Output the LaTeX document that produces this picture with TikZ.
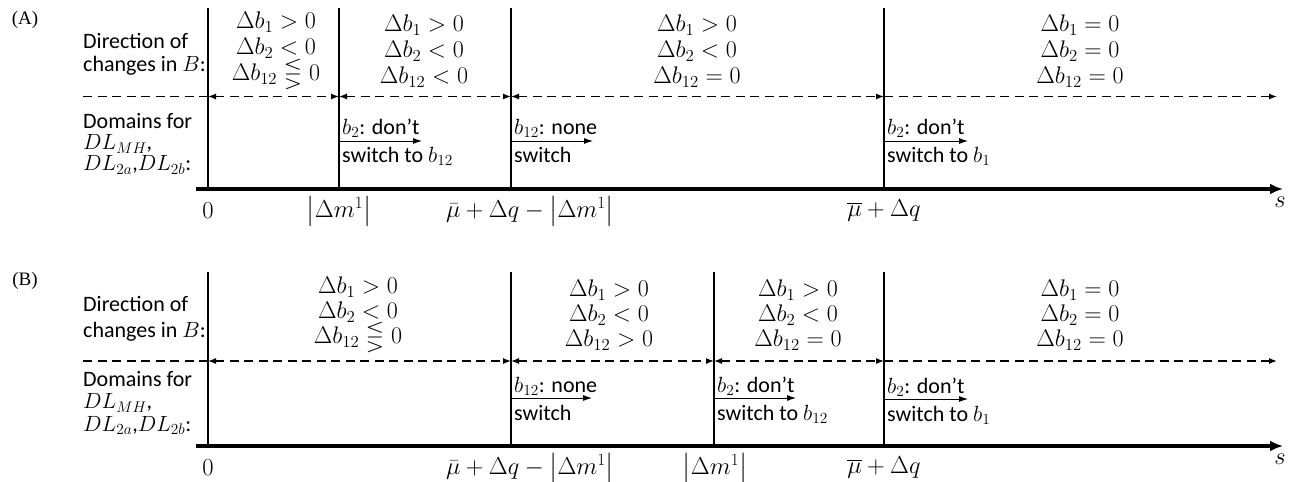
\RequirePackage{fix-cm}
\documentclass[tikz,border=0pt]{standalone}
\usepackage{amssymb}
\usepackage[no-math]{fontspec}
\setmainfont{Carlito}
\newfontfamily\seriflab{Liberation Serif}
\usetikzlibrary{arrows.meta}
\tikzset{
  vline/.style={line width=1.2pt},
  dashline/.style={line width=1.2pt, dash pattern=on 9pt off 5.5pt},
  darr/.style={dashline, {Latex[length=8pt,width=6pt]}-{Latex[length=8pt,width=6pt]}},
  rarr/.style={dashline, -{Latex[length=8pt,width=6pt]}},
  axisline/.style={line width=3.5pt, -{Latex[length=13pt,width=11pt]}},
  note/.style={line width=0.9pt, -{Latex[length=9pt,width=6pt]}},
  txt/.style={inner sep=0pt, font=\fontsize{22}{26}\selectfont},
  mblock/.style={inner sep=0pt, align=center, font=\fontsize{24}{26}\selectfont},
  tick/.style={inner sep=0pt, font=\fontsize{24.5}{24}\selectfont},
  plab/.style={inner sep=0pt, font=\seriflab\fontsize{19}{19}\selectfont}
}
\begin{document}
\begin{tikzpicture}[x=1pt,y=-1pt]
\useasboundingbox (0,0) rectangle (1291,482);

% ================= Panel A =================
\node[plab] (Alab) at (25,20) {(A)};
\foreach \n/\x in {0/208,1/339,2/511,3/884}{
  \coordinate (At\n) at (\x,8);
  \coordinate (Ad\n) at (\x,96.5);
  \coordinate (Ab\n) at (\x,189);
}
\coordinate (Adl) at (83,96.5);
\coordinate (Ade) at (1277,96.5);
\coordinate (Aax0) at (196,189);
\coordinate (Aax1) at (1283,189);
\foreach \n in {0,1,2,3}{ \draw[vline] (At\n) -- (Ab\n); }
\draw[dashline] (Adl) -- (Ad0);
\draw[darr] (Ad0) -- (Ad1);
\draw[darr] (Ad1) -- (Ad2);
\draw[darr] (Ad2) -- (Ad3);
\draw[rarr] (Ad3) -- (Ade);
\draw[axisline] (Aax0) -- (Aax1);
\node[txt, align=left, anchor=west, font=\fontsize{22}{23}\selectfont] (Adir) at (83,54) {Direction of\\changes in $B$:};
\node[txt, align=left, anchor=west, font=\fontsize{22}{21}\selectfont] (Adom) at (83,144) {Domains for\\$DL_{MH}$,\\$DL_{2a}$,$DL_{2b}$:};
\node[mblock] (Am0) at (276,51) {$\Delta b_1>0$\\$\Delta b_2<0$\\$\Delta b_{12}\lesseqgtr 0$};
\node[mblock] (Am1) at (424,51) {$\Delta b_1>0$\\$\Delta b_2<0$\\$\Delta b_{12}<0$};
\node[mblock] (Am2) at (697,51) {$\Delta b_1>0$\\$\Delta b_2<0$\\$\Delta b_{12}=0$};
\node[mblock] (Am3) at (1080,51) {$\Delta b_1=0$\\$\Delta b_2=0$\\$\Delta b_{12}=0$};
\coordinate (An1) at (339,141); \coordinate (An1e) at (422,141);
\coordinate (An2) at (511,141); \coordinate (An2e) at (593,141);
\coordinate (An3) at (884,141); \coordinate (An3e) at (968,141);
\draw[note] (An1) -- (An1e);
\draw[note] (An2) -- (An2e);
\draw[note] (An3) -- (An3e);
\node[txt, anchor=base west] (Aa1u) at (342,134) {$b_2$: don’t};
\node[txt, anchor=base west] (Aa1d) at (342,162) {switch to $b_{12}$};
\node[txt, anchor=base west] (Aa2u) at (514,134) {$b_{12}$: none};
\node[txt, anchor=base west] (Aa2d) at (514,162) {switch};
\node[txt, anchor=base west] (Aa3u) at (887,134) {$b_2$: don’t};
\node[txt, anchor=base west] (Aa3d) at (887,162) {switch to $b_1$};
\node[tick] (Ak0) at (208,211) {$0$};
\node[tick] (Ak1) at (339,211) {$\left|\Delta m^1\right|$};
\node[tick] (Ak2) at (530,211) {$\bar{\mu}+\Delta q-\left|\Delta m^1\right|$};
\node[tick] (Ak3) at (884,211) {$\overline{\mu}+\Delta q$};
\node[tick] (As) at (1280,202) {$s$};

% ================= Panel B =================
\node[plab] (Blab) at (25,281) {(B)};
\foreach \n/\x in {0/208,1/511,2/714,3/884}{
  \coordinate (Bt\n) at (\x,272);
  \coordinate (Bd\n) at (\x,361);
  \coordinate (Bb\n) at (\x,446);
}
\coordinate (Bdl) at (83,361);
\coordinate (Bde) at (1277,361);
\coordinate (Bax0) at (196,446);
\coordinate (Bax1) at (1283,446);
\foreach \n in {0,1,2,3}{ \draw[vline] (Bt\n) -- (Bb\n); }
\draw[dashline] (Bdl) -- (Bd0);
\draw[darr] (Bd0) -- (Bd1);
\draw[darr] (Bd1) -- (Bd2);
\draw[darr] (Bd2) -- (Bd3);
\draw[rarr] (Bd3) -- (Bde);
\draw[axisline] (Bax0) -- (Bax1);
\node[txt, align=left, anchor=west, font=\fontsize{22}{26}\selectfont] (Bdir) at (83,319) {Direction of\\changes in $B$:};
\node[txt, align=left, anchor=west, font=\fontsize{22}{22.5}\selectfont] (Bdom) at (83,403) {Domains for\\$DL_{MH}$,\\$DL_{2a}$,$DL_{2b}$:};
\node[mblock, font=\fontsize{24}{25}\selectfont] (Bm0) at (358,315) {$\Delta b_1>0$\\$\Delta b_2<0$\\$\Delta b_{12}\lesseqgtr 0$};
\node[mblock, font=\fontsize{24}{25}\selectfont] (Bm1) at (609,315) {$\Delta b_1>0$\\$\Delta b_2<0$\\$\Delta b_{12}>0$};
\node[mblock, font=\fontsize{24}{25}\selectfont] (Bm2) at (798,315) {$\Delta b_1>0$\\$\Delta b_2<0$\\$\Delta b_{12}=0$};
\node[mblock, font=\fontsize{24}{25}\selectfont] (Bm3) at (1080,315) {$\Delta b_1=0$\\$\Delta b_2=0$\\$\Delta b_{12}=0$};
\coordinate (Bn1) at (511,398); \coordinate (Bn1e) at (592,398);
\coordinate (Bn2) at (714,398); \coordinate (Bn2e) at (796,398);
\coordinate (Bn3) at (884,399); \coordinate (Bn3e) at (968,399);
\draw[note] (Bn1) -- (Bn1e);
\draw[note] (Bn2) -- (Bn2e);
\draw[note] (Bn3) -- (Bn3e);
\node[txt, anchor=base west] (Ba1u) at (514,392) {$b_{12}$: none};
\node[txt, anchor=base west] (Ba1d) at (514,420) {switch};
\node[txt, anchor=base west] (Ba2u) at (717,392) {$b_2$: don’t};
\node[txt, anchor=base west] (Ba2d) at (717,420) {switch to $b_{12}$};
\node[txt, anchor=base west] (Ba3u) at (887,393) {$b_2$: don’t};
\node[txt, anchor=base west] (Ba3d) at (887,421) {switch to $b_1$};
\node[tick] (Bk0) at (208,468) {$0$};
\node[tick] (Bk1) at (530,468) {$\bar{\mu}+\Delta q-\left|\Delta m^1\right|$};
\node[tick] (Bk2) at (715,468) {$\left|\Delta m^1\right|$};
\node[tick] (Bk3) at (884,468) {$\overline{\mu}+\Delta q$};
\node[tick] (Bs) at (1280,459) {$s$};
\end{tikzpicture}
\end{document}
